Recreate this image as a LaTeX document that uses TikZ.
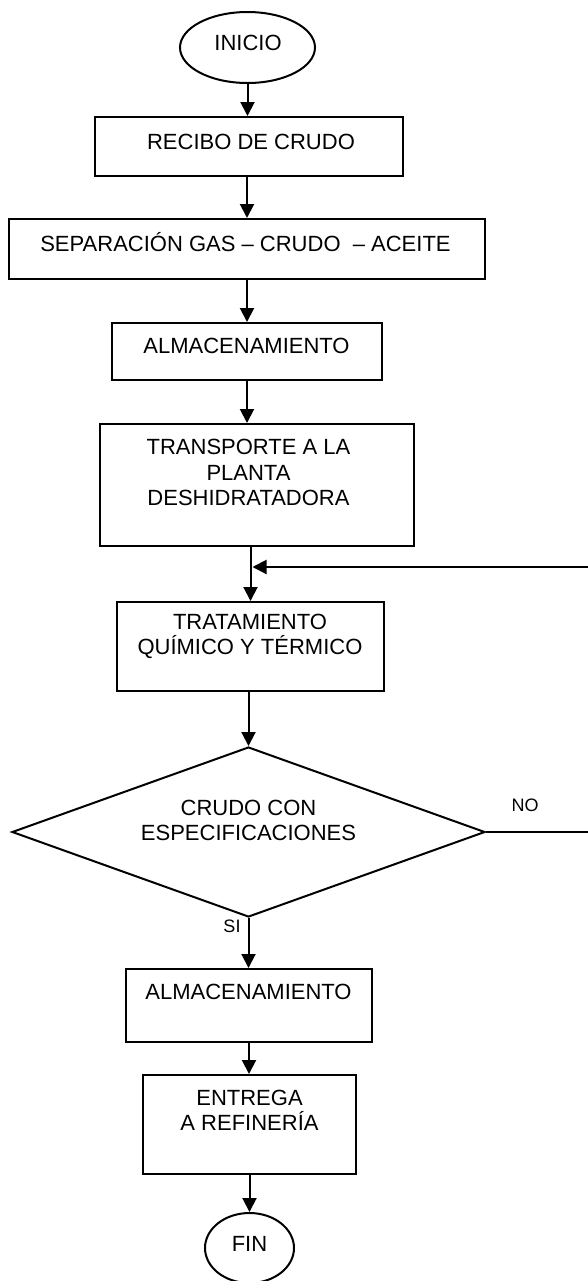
\documentclass[tikz,border=0pt]{standalone}
\usepackage{fontspec}
\setmainfont{Liberation Sans}
\usetikzlibrary{shapes.geometric,arrows.meta,calc}
\begin{document}
\begin{tikzpicture}[x=0.5pt,y=-0.5pt,
  box/.style={draw,line width=1pt,rectangle,inner sep=0pt},
  term/.style={draw,line width=1pt,ellipse,inner sep=0pt},
  dec/.style={draw,line width=1pt,diamond,inner sep=0pt},
  txt/.style={font=\fontsize{11}{12.75}\selectfont,align=center,inner sep=0pt},
  lbl/.style={font=\fontsize{9}{10}\selectfont,inner sep=0pt},
  arr/.style={line width=1pt,-{Triangle[length=7pt,width=7pt]}},
  ln/.style={line width=1pt}]
\useasboundingbox (0,0) rectangle (588,1281);
\clip (0,0) rectangle (588,1281);

% shapes
\node[term, minimum width=67.5pt, minimum height=35.5pt] (inicio) at (247.5,47.5) {};
\node[box, minimum width=154pt, minimum height=29.5pt] (recibo) at (249,146.5) {};
\node[box, minimum width=238pt, minimum height=30pt] (sep) at (247,249) {};
\node[box, minimum width=135pt, minimum height=28.5pt] (alm1) at (247,351.5) {};
\node[box, minimum width=157pt, minimum height=61pt] (transp) at (257,485) {};
\node[box, minimum width=133.5pt, minimum height=44.5pt] (trat) at (250.5,646.5) {};
\node[dec, minimum width=236.5pt, minimum height=85pt] (dec) at (248.5,832) {};
\node[box, minimum width=123pt, minimum height=36.5pt] (alm2) at (249,1005.5) {};
\node[box, minimum width=106.5pt, minimum height=49.5pt] (ent) at (249.5,1124.5) {};
\node[term, minimum width=44.5pt, minimum height=35pt] (fin) at (249.5,1248) {};

% texts
\node[txt] (t-inicio) at (248,42.5) {INICIO};
\node[txt] (t-recibo) at (251,142) {RECIBO DE CRUDO};
\node[txt, anchor=base] (t-sep) at (245.5,251) {SEPARACIÓN GAS – CRUDO\ \ – ACEITE};
\node[txt] (t-alm1) at (246.5,346) {ALMACENAMIENTO};
\node[txt] (t-transp) at (248.5,472.5) {TRANSPORTE A LA\\PLANTA\\DESHIDRATADORA};
\node[txt] (t-trat) at (250,636.5) {TRATAMIENTO\\QUÍMICO Y TÉRMICO};
\node[txt] (t-dec) at (248.5,820.5) {CRUDO CON\\ESPECIFICACIONES};
\node[txt] (t-alm2) at (248.5,992) {ALMACENAMIENTO};
\node[txt] (t-ent) at (249.5,1110.5) {ENTREGA\\A REFINERÍA};
\node[txt] (t-fin) at (249.5,1243.5) {FIN};

\node[lbl] (no) at (525,805) {NO};
\node[lbl] (si) at (232,926) {SI};

% connectors
\coordinate (ret) at (252.5,567);
\draw[arr] (inicio.south) -- (inicio.south |- recibo.north);
\draw[arr] (sep.north |- recibo.south) -- (sep.north);
\draw[arr] (alm1.north |- sep.south) -- (alm1.north);
\draw[arr] (alm1.south) -- (alm1.south |- transp.north);
\draw[arr] (trat.north |- transp.south) -- (trat.north);
\draw[arr] (dec.east) -- ++(150,0) |- (ret);
\draw[arr] (dec.north |- trat.south) -- (dec.north);
\draw[arr] (dec.south) -- (dec.south |- alm2.north);
\draw[arr] (alm2.south) -- (alm2.south |- ent.north);
\draw[arr] (ent.south) -- (fin.north);
\end{tikzpicture}
\end{document}
